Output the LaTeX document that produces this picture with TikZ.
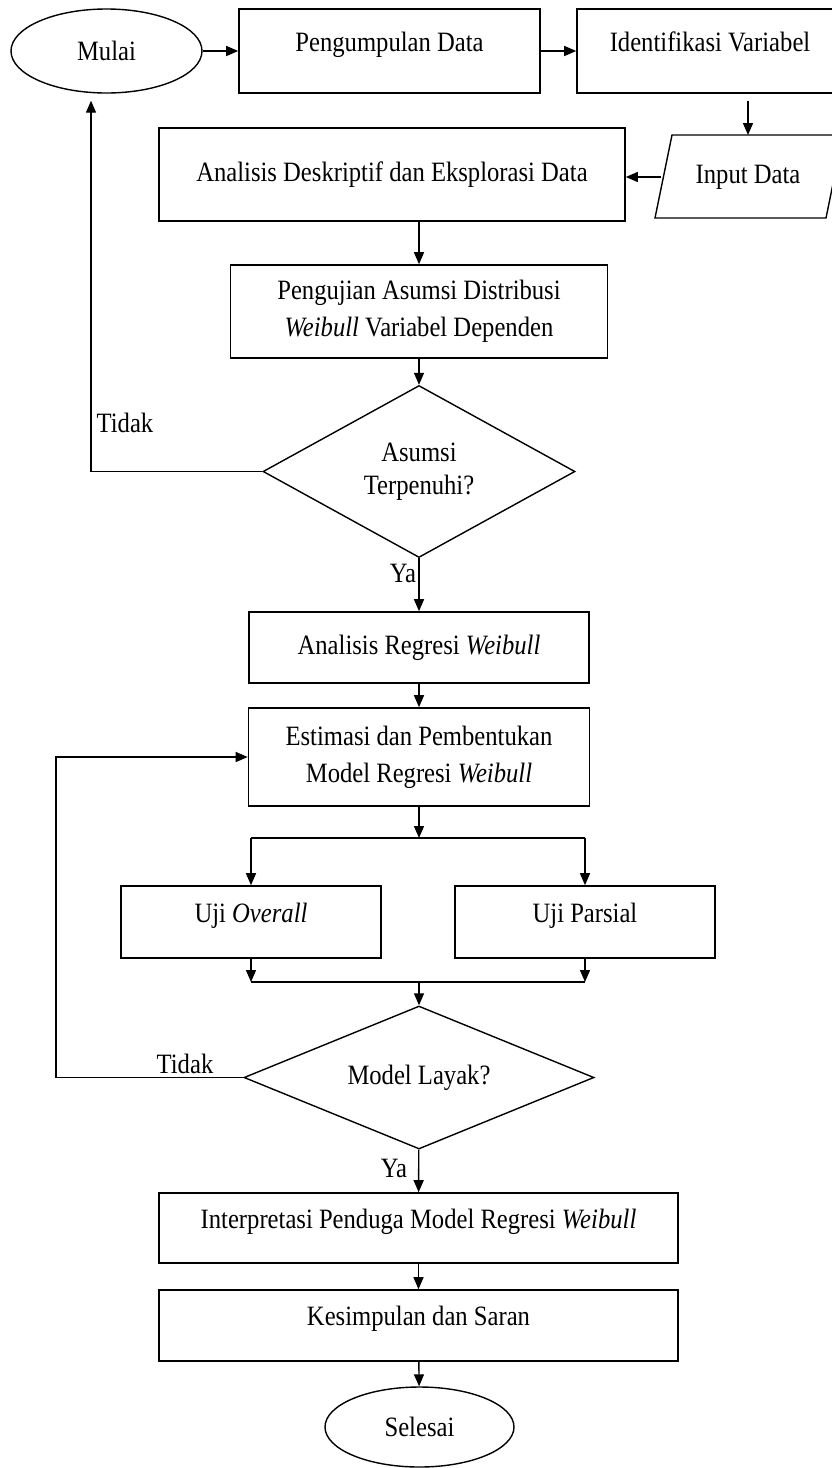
\documentclass[tikz,border=0pt]{standalone}
\usepackage{fontspec}
\setmainfont{Liberation Serif}[FakeStretch=0.88]
\usetikzlibrary{shapes.geometric,arrows.meta}
\tikzset{
  box/.style={draw, rectangle, line width=1.6pt, inner sep=0pt, align=center},
  boxtop/.style={box, text depth=19pt},
  term/.style={draw, ellipse, line width=1.4pt, inner sep=0pt},
  decide/.style={draw, diamond, line width=1.4pt, inner sep=0pt, align=center},
  flow/.style={line width=1.4pt, -{Triangle[length=12pt,width=10pt]}},
  plain/.style={line width=1.4pt}
}
\begin{document}
\begin{tikzpicture}[x=1pt, y=-1pt, font=\fontsize{28}{37}\selectfont]
    \useasboundingbox (0,0) rectangle (832,1468);
    % Top row
    \node[term, minimum width=191pt, minimum height=84pt] (mulai) at (106.5,51) {Mulai};
    \node[boxtop, minimum width=301pt, minimum height=84pt] (kumpul) at (389.5,51) {Pengumpulan Data};
    \node[boxtop, minimum width=266pt, minimum height=84pt] (ident) at (710,51) {Identifikasi Variabel};
    % Input data
    \draw[plain] (655,218) -- (672,135) -- (843,135) -- (826,218) -- cycle;
    \node (input) at (748,177) {Input Data};
    \coordinate (inTop) at (748,135);
    \coordinate (inLeft) at (661,177);
    \node[box, minimum width=466pt, minimum height=93pt] (deskriptif) at (392,174.5) {Analisis Deskriptif dan Eksplorasi Data};
    % Assumption
    \node[box, minimum width=377pt, minimum height=93pt] (ujiasumsi) at (419,311.5) {Pengujian Asumsi Distribusi\\\textit{Weibull} Variabel Dependen};
    \node[decide, minimum width=312pt, minimum height=172pt, shape aspect=1.8, font=\fontsize{28}{33}\selectfont] (asumsi) at (419,471.5) {Asumsi\\Terpenuhi?};
    \node (tidakA) at (125,423) {Tidak};
    \node (yaA) at (403,573) {Ya};
    % Regression
    \node[box, minimum width=340pt, minimum height=71pt] (regresi) at (419,647.5) {Analisis Regresi \textit{Weibull}};
    \node[box, minimum width=341pt, minimum height=98pt] (estimasi) at (419,757) {Estimasi dan Pembentukan\\Model Regresi \textit{Weibull}};
    \node[boxtop, minimum width=260pt, minimum height=72pt] (overall) at (251,922) {Uji \textit{Overall}};
    \node[boxtop, minimum width=260pt, minimum height=72pt] (parsial) at (585,922) {Uji Parsial};
    \node[decide, minimum width=350pt, minimum height=143pt, shape aspect=2.4] (layak) at (419,1077.5) {Model Layak?};
    \node (tidakB) at (185,1064) {Tidak};
    \node (yaB) at (394,1168) {Ya};
    % End
    \node[boxtop, minimum width=519pt, minimum height=70pt] (interp) at (418.5,1228) {Interpretasi Penduga Model Regresi \textit{Weibull}};
    \node[boxtop, minimum width=519pt, minimum height=71pt] (simpul) at (418.5,1325.5) {Kesimpulan dan Saran};
    \node[term, minimum width=189pt, minimum height=80pt] (selesai) at (419.5,1427) {Selesai};
    % Loop points
    \coordinate (loopA) at (91,0);
    \coordinate (loopB) at (56,0);
    \coordinate (split) at (419,838);
    \coordinate (join) at (419,982);
    % Connectors
    \draw[flow] (mulai) -- (kumpul);
    \draw[flow] (kumpul) -- (ident);
    \draw[flow] ([yshift=-7pt]ident.south -| inTop) -- (inTop);
    \draw[flow] (inLeft) -- (deskriptif.east |- inLeft);
    \draw[flow] (deskriptif.south -| ujiasumsi) -- (ujiasumsi);
    \draw[flow] (ujiasumsi) -- (asumsi);
    \draw[flow, shorten >=7pt] (asumsi.west) -| (mulai.south -| loopA);
    \draw[flow] (asumsi) -- (regresi);
    \draw[flow] (regresi) -- (estimasi);
    \draw[flow] (estimasi) -- (split);
    \draw[plain] (overall.north |- split) -- (parsial.north |- split);
    \draw[flow] (overall.north |- split) -- (overall);
    \draw[flow] (parsial.north |- split) -- (parsial);
    \draw[flow] (overall) -- (overall.south |- join);
    \draw[flow] (parsial) -- (parsial.south |- join);
    \draw[plain] (overall.south |- join) -- (parsial.south |- join);
    \draw[flow] (join) -- (layak);
    \draw[flow] (layak.west) -- (layak.west -| loopB) |- (estimasi.west);
    \draw[flow] (layak) -- (interp);
    \draw[flow] (interp) -- (simpul);
    \draw[flow] (simpul) -- (selesai);
\end{tikzpicture}
\end{document}
